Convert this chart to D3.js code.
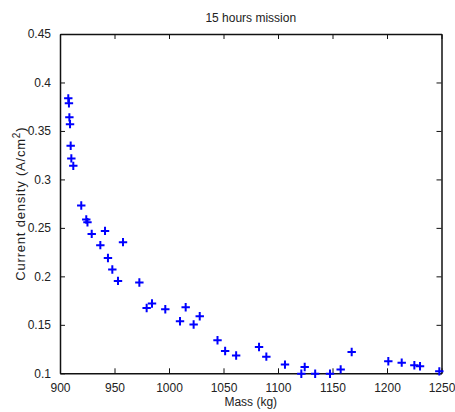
<!DOCTYPE html>
<html>
<head>
<meta charset="utf-8">
<script src="https://cdn.jsdelivr.net/npm/d3@7"></script>
<style>
  html, body { margin: 0; padding: 0; background: #fff; }
  svg { display: block; }
  text { font-family: "Liberation Sans", Arial, sans-serif; fill: #222; }
</style>
</head>
<body>
<div id="chart"></div>
<script>
// ---- Data ----
const massKg = [
  907.6, 908.2, 908.6, 909.2, 909.8, 910.4, 912.2, 919.5, 924.1, 925.2,
  929.1, 941.3, 937.0, 957.8, 944.0, 948.0, 953.2, 972.8, 979.5, 984.4,
  996.6, 1010.1, 1015.3, 1022.6, 1028.2, 1044.5, 1051.5, 1061.6, 1082.6, 1089.3,
  1106.4, 1121.4, 1124.5, 1134.1, 1147.7, 1157.5, 1167.6, 1201.2, 1213.5, 1225.1,
  1230.3, 1248.0
];
const currentDensity = [
  0.3836, 0.3785, 0.364, 0.357, 0.3347, 0.3217, 0.314, 0.2731, 0.2587, 0.2558,
  0.2438, 0.2469, 0.2322, 0.2353, 0.219, 0.207, 0.1953, 0.1937, 0.1674, 0.172,
  0.1661, 0.1537, 0.1682, 0.1503, 0.1589, 0.1341, 0.123, 0.1183, 0.1272, 0.1172,
  0.109, 0.0995, 0.1065, 0.0995, 0.0995, 0.104, 0.122, 0.1124, 0.111, 0.1083,
  0.1073, 0.102
];
const xTicks = [900, 950, 1000, 1050, 1100, 1150, 1200, 1250];
const yTicks = [0.1, 0.15, 0.2, 0.25, 0.3, 0.35, 0.4, 0.45];
const titleText = "15 hours mission";
const xLabelText = "Mass (kg)";

// ---- Layout ----
const W = 455, H = 412;
const m = { left: 60, right: 455 - 441.5, top: 34, bottom: 412 - 373.3 };
const iw = W - m.left - m.right, ih = H - m.top - m.bottom;

const svg = d3.select("#chart").append("svg").attr("width", W).attr("height", H);
const g = svg.append("g").attr("transform", `translate(${m.left},${m.top})`);

const x = d3.scaleLinear().domain([900, 1250]).range([0, iw]);
const y = d3.scaleLinear().domain([0.1, 0.45]).range([ih, 0]);

const fmtY = d => String(+d.toFixed(2));

// Axes (MATLAB style: inward ticks on all sides)
const axB = g.append("g").attr("transform", `translate(0,${ih})`)
  .call(d3.axisBottom(x).tickValues(xTicks).tickSizeInner(-5).tickSizeOuter(0).tickPadding(10).tickFormat(d3.format("d")));
const axT = g.append("g")
  .call(d3.axisTop(x).tickValues(xTicks).tickSizeInner(-5).tickSizeOuter(0).tickFormat(""));
const axL = g.append("g")
  .call(d3.axisLeft(y).tickValues(yTicks).tickSizeInner(-5).tickSizeOuter(0).tickPadding(9).tickFormat(fmtY));
const axR = g.append("g").attr("transform", `translate(${iw},0)`)
  .call(d3.axisRight(y).tickValues(yTicks).tickSizeInner(-5).tickSizeOuter(0).tickFormat(""));

[axB, axT, axL, axR].forEach(a => {
  a.select(".domain").attr("stroke", "#111").attr("stroke-width", 1.5);
  a.selectAll(".tick line").attr("stroke", "#111").attr("stroke-width", 1);
  a.selectAll(".tick text").attr("font-size", 12).attr("fill", "#222")
    .attr("font-family", "Liberation Sans, Arial, sans-serif");
});

// Markers (plus signs)
const pts = massKg.map((mv, i) => ({ x: mv, y: currentDensity[i] }));
const s = 4.2;
const mk = g.append("g").attr("stroke", "#0000ff").attr("stroke-width", 2).attr("fill", "none");
mk.selectAll("path").data(pts).enter().append("path")
  .attr("d", d => {
    const cx = x(d.x), cy = y(d.y);
    return `M${cx - s},${cy}H${cx + s}M${cx},${cy - s}V${cy + s}`;
  });

// Title
svg.append("text").attr("x", m.left + iw / 2).attr("y", 22)
  .attr("text-anchor", "middle").attr("font-size", 12).text(titleText);

// X label
svg.append("text").attr("x", m.left + iw / 2).attr("y", 406)
  .attr("text-anchor", "middle").attr("font-size", 12).text(xLabelText);

// Y label (rotated, with superscript)
const yl = svg.append("text")
  .attr("transform", `translate(25,${m.top + ih / 2}) rotate(-90)`)
  .attr("text-anchor", "middle").attr("font-size", 13).attr("letter-spacing", 0.8);
yl.append("tspan").text("Current density (A/cm");
yl.append("tspan").attr("dy", -5).attr("font-size", 10).text("2");
yl.append("tspan").attr("dy", 5).text(")");
</script>
</body>
</html>
